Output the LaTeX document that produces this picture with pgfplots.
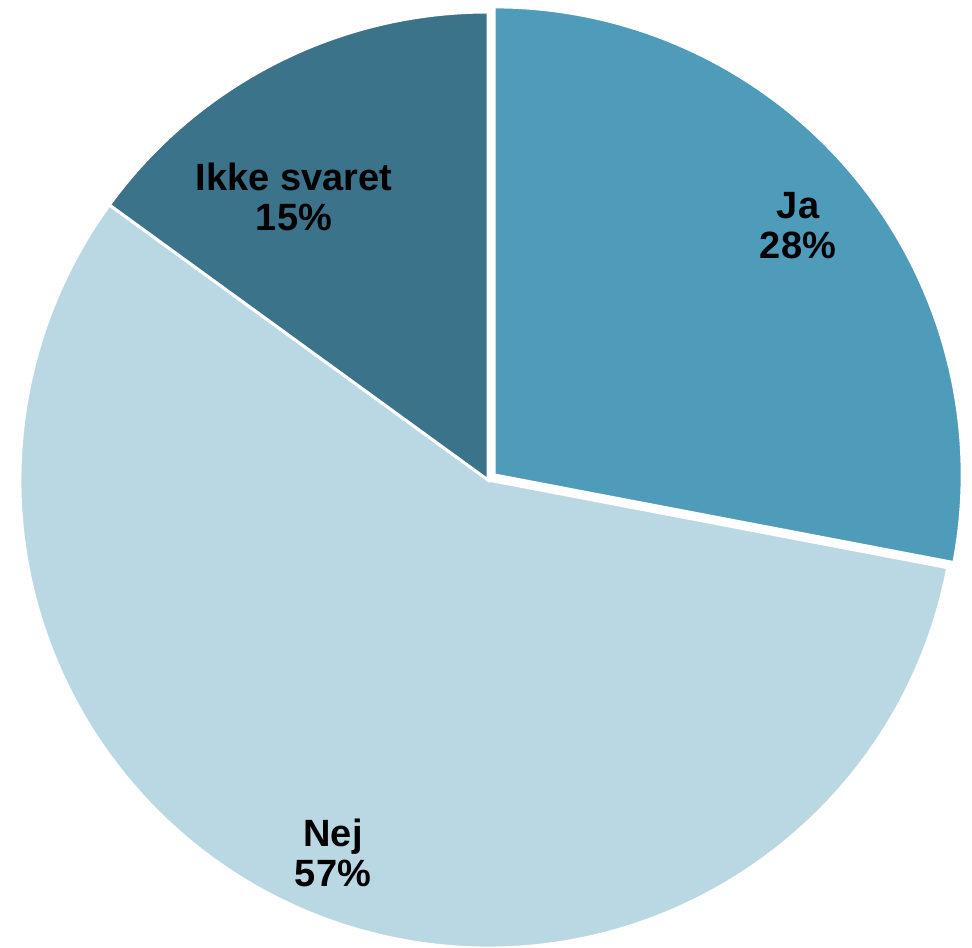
\documentclass[border=0pt]{standalone}
\usepackage{fontspec}
\setmainfont{Liberation Sans}
\usepackage{pgfplots}
\usepackage{pgfplotstable}
\pgfplotsset{compat=1.18}
\definecolor{cJa}{HTML}{4F9BBA}
\definecolor{cNej}{HTML}{BAD8E3}
\definecolor{cIkke}{HTML}{3B738B}
\pgfplotstableread{
label value
Ja 28
Nej 57
Ikke 15
}\piedata
\pgfplotstablegetelem{0}{value}\of\piedata \let\va\pgfplotsretval
\pgfplotstablegetelem{1}{value}\of\piedata \let\vb\pgfplotsretval
\pgfplotstablegetelem{2}{value}\of\piedata \let\vc\pgfplotsretval
\pgfmathsetmacro\aA{90}
\pgfmathsetmacro\aB{\aA-3.6*\va}
\pgfmathsetmacro\aC{\aB-3.6*\vb}
\pgfmathsetmacro\aD{\aC-3.6*\vc}
\pgfmathsetmacro\mA{(\aA+\aB)/2}
\begin{document}
\begin{tikzpicture}
\begin{axis}[
  scale only axis, width=486pt, height=473.5pt,
  xmin=0, xmax=972, ymin=0, ymax=947,
  hide axis, clip=false]
\coordinate (ll) at (axis cs:0,0);
\coordinate (ur) at (axis cs:972,947);
% Nej
\fill[cNej, draw=white, line width=1.5pt, line join=miter]
  (axis cs:488,467) -- ++(\aB:234pt) arc[start angle=\aB, end angle=\aC, radius=234pt] -- cycle;
% Ikke svaret
\fill[cIkke, draw=white, line width=1.5pt, line join=miter]
  (axis cs:488,467) -- ++(\aC:234pt) arc[start angle=\aC, end angle=\aD, radius=234pt] -- cycle;
% Ja (exploded)
\fill[cJa, draw=white, line width=1.5pt, line join=miter, shift={(\mA:4pt)}]
  (axis cs:488,467) -- ++(\aA:234pt) arc[start angle=\aA, end angle=\aB, radius=234pt] -- cycle;
\begin{scope}[every node/.style={align=center, font=\fontsize{19}{20}\selectfont\bfseries, text=black}]
\node at (axis cs:798,721) {Ja\\28\%};
\node at (axis cs:333,94) {Nej\\57\%};
\node at (axis cs:294,750) {Ikke svaret\\15\%};
\end{scope}
\end{axis}
\pgfresetboundingbox
\path (ll) rectangle (ur);
\end{tikzpicture}
\end{document}
